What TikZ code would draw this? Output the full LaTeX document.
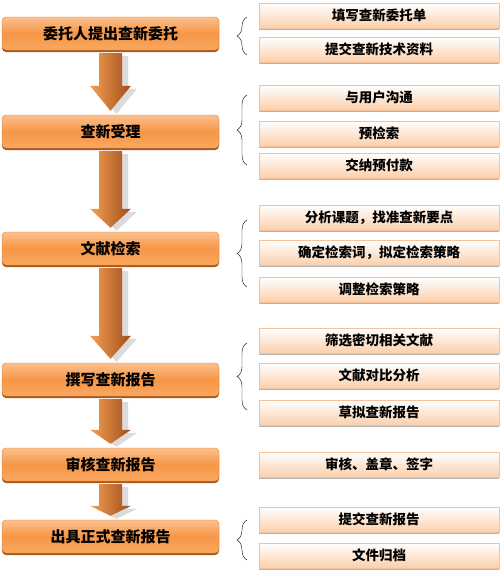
\documentclass[tikz,border=0pt]{standalone}
\usepackage{fontspec}
\setmainfont{Noto Sans CJK SC}
\usetikzlibrary{calc,shadows,decorations.pathreplacing}

\definecolor{orangetop}{HTML}{FAC08F}
\definecolor{orangemid}{HTML}{F79646}
\definecolor{orangebot}{HTML}{F8A860}
\definecolor{orangeline}{HTML}{E9801F}
\definecolor{brownedge}{HTML}{A8561C}
\definecolor{peachbot}{HTML}{FBCFAB}
\definecolor{peachline}{HTML}{F6C29C}
\definecolor{arrowleft}{HTML}{F5A052}
\definecolor{arrowright}{HTML}{9E4C1C}

% block arrow outline: from, to, head length, offset
\newcommand{\arrowpath}[4]{%
($(#1.south)+(#4)+(-11.5,3)$) -- ($(#1.south)+(#4)+(11.5,3)$) --
($(#2.north)+(#4)+(11.5,-4-#3)$) -- ($(#2.north)+(#4)+(20.5,-4-#3)$) --
($(#2.north)+(#4)+(0,-4)$) --
($(#2.north)+(#4)+(-20.5,-4-#3)$) -- ($(#2.north)+(#4)+(-11.5,-4-#3)$) -- cycle}
\newcommand{\flowarrow}[3]{%
\fill[gray!28] \arrowpath{#1}{#2}{#3}{6,3};
\shade[left color=arrowleft, right color=arrowright] \arrowpath{#1}{#2}{#3}{0,0};}

\begin{document}
\begin{tikzpicture}[x=1pt, y=-1pt,
  mainbox/.style={rectangle, rounded corners=4pt, inner sep=0pt,
    minimum width=217pt, minimum height=33pt, draw=orangeline,
    top color=orangetop, bottom color=orangebot, middle color=orangemid,
    drop shadow={shadow xshift=0pt, shadow yshift=-2pt, fill=brownedge, opacity=1},
    font=\bfseries\fontsize{15}{15}\selectfont},
  subbox/.style={rectangle, inner sep=0pt, minimum width=240pt,
    minimum height=25pt, draw=peachline, top color=white, bottom color=peachbot,
    drop shadow={shadow xshift=0pt, shadow yshift=-2pt, fill=gray, opacity=0.6},
    font=\bfseries\fontsize{13.5}{13.5}\selectfont},
  groupbrace/.style={decorate, decoration={brace, amplitude=10pt}, thin}]
\useasboundingbox (0,0) rectangle (501,573);

% steps
\node[mainbox] (entrust) at (110.5,33.5) {委托人提出查新委托};
\node[mainbox] (accept) at (110.5,131.5) {查新受理};
\node[mainbox] (search) at (110.5,248.5) {文献检索};
\node[mainbox] (write) at (110.5,379.5) {撰写查新报告};
\node[mainbox] (review) at (110.5,464.5) {审核查新报告};
\node[mainbox] (issue) at (110.5,536.5) {出具正式查新报告};

% arrows between steps
\flowarrow{entrust}{accept}{25}
\flowarrow{accept}{search}{19}
\flowarrow{search}{write}{23}
\flowarrow{write}{review}{14}
\flowarrow{review}{issue}{10}

% details
\node[subbox] (fillform) at (379,15.5) {填写查新委托单};
\node[subbox] (submitdoc) at (379,49.5) {提交查新技术资料};
\node[subbox] (talk) at (379,97.5) {与用户沟通};
\node[subbox] (presearch) at (379,133.5) {预检索};
\node[subbox] (pay) at (379,165.5) {交纳预付款};
\node[subbox] (analyse) at (379,217.5) {分析课题，找准查新要点};
\node[subbox] (terms) at (379,252.5) {确定检索词，拟定检索策略};
\node[subbox] (adjust) at (379,289.5) {调整检索策略};
\node[subbox] (filter) at (379,340.5) {筛选密切相关文献};
\node[subbox] (compare) at (379,375.5) {文献对比分析};
\node[subbox] (draft) at (379,412.5) {草拟查新报告};
\node[subbox] (sign) at (379,464.5) {审核、盖章、签字};
\node[subbox] (submitrep) at (379,519.5) {提交查新报告};
\node[subbox] (archive) at (379,555.5) {文件归档};

% braces
\draw[groupbrace] (247,55) -- (247,17);
\draw[groupbrace] (247,165) -- (247,95);
\draw[groupbrace] (247,287) -- (247,220);
\draw[groupbrace] (247,410) -- (247,343);
\draw[groupbrace] (247,560) -- (247,520);
\end{tikzpicture}
\end{document}
